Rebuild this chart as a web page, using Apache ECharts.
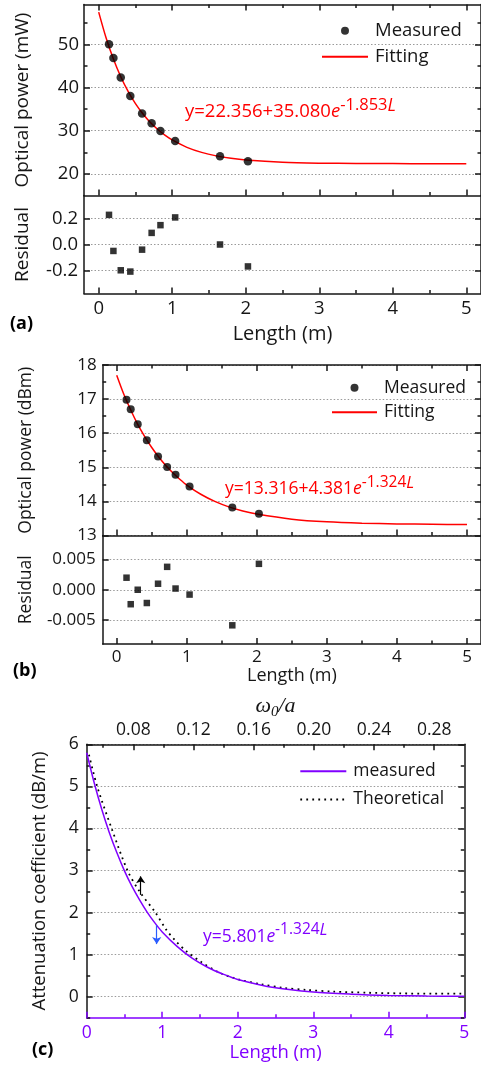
<!DOCTYPE html>
<html>
<head>
<meta charset="utf-8">
<script src="https://cdn.jsdelivr.net/npm/echarts@6/dist/echarts.min.js"></script>
<style>
html, body { margin: 0; padding: 0; background: #fff; overflow: hidden; }
#chart_container { width: 481px; height: 1068px; }
</style>
</head>
<body>
<div id="chart_container"></div>
<script>
// three stacked panels: (a) power in mW, (b) power in dBm, (c) attenuation

// measured points, same lengths in (a) and (b)
var lengthPts   = [0.14, 0.20, 0.30, 0.43, 0.59, 0.72, 0.84, 1.04, 1.65, 2.03];
var powerMw     = [50.0, 46.8, 42.3, 38.0, 34.0, 31.7, 29.9, 27.6, 24.1, 22.9];
var residualMw  = [0.23, -0.05, -0.20, -0.21, -0.04, 0.09, 0.15, 0.21, 0.00, -0.17];
var powerDbm    = [16.98, 16.70, 16.26, 15.79, 15.32, 15.01, 14.78, 14.44, 13.82, 13.64];
var residualDbm = [0.0020, -0.0024, 0.0000, -0.0022, 0.0010, 0.0038, 0.0002, -0.0008, -0.0059, 0.0043];

// points
var curveL  = [0, 0.1, 0.2, 0.3, 0.4, 0.5, 0.6, 0.7, 0.8, 0.9, 1.0, 1.2, 1.4, 1.6, 1.8, 2.0, 2.5, 3.0, 3.5, 4.0, 4.5, 5.0];
var fitMw   = [57.44, 51.50, 46.57, 42.48, 39.08, 36.25, 33.90, 31.94, 30.32, 28.98, 27.86, 26.15, 24.98, 24.17, 23.61, 23.22, 22.70, 22.49, 22.41, 22.38, 22.36, 22.36];
var fitDbm  = [17.70, 17.15, 16.68, 16.26, 15.90, 15.58, 15.30, 15.05, 14.84, 14.65, 14.48, 14.21, 14.00, 13.84, 13.72, 13.63, 13.48, 13.40, 13.36, 13.34, 13.33, 13.32];
var attnMeasured = [5.80, 5.08, 4.45, 3.90, 3.42, 2.99, 2.62, 2.30, 2.01, 1.76, 1.54, 1.19, 0.91, 0.70, 0.54, 0.41, 0.21, 0.11, 0.06, 0.03, 0.015, 0.01];

// dotted theoretical curve in (c)
var theoryL    = [0.03, 0.14, 0.33, 0.54, 0.70, 0.91, 1.05, 1.17, 1.32, 1.52, 1.77, 2.03, 2.30, 2.60, 2.91, 3.27, 3.71, 4.15, 4.59, 5.00];
var theoryAttn = [5.75, 4.99, 4.00, 3.00, 2.50, 2.00, 1.60, 1.34, 1.08, 0.82, 0.56, 0.40, 0.30, 0.21, 0.16, 0.12, 0.095, 0.078, 0.071, 0.070];

// tick values
var lenMajor   = [0, 1, 2, 3, 4, 5];
var lenMinor   = [0.5, 1.5, 2.5, 3.5, 4.5];
var mwMajor    = [20, 30, 40, 50];
var mwMinor    = [25, 35, 45, 55];
var resMwTicks = [-0.2, 0, 0.2];
var dbmMajor   = [13, 14, 15, 16, 17, 18];
var dbmMinor   = [13.5, 14.5, 15.5, 16.5, 17.5];
var resDbmTicks = [-0.005, 0, 0.005];
var attnMajor  = [0, 1, 2, 3, 4, 5, 6];
var attnMinor  = [-0.5, 0.5, 1.5, 2.5, 3.5, 4.5, 5.5];
var omegaMajor = [0.08, 0.12, 0.16, 0.20, 0.24, 0.28];
var omegaMinor = [0.06, 0.10, 0.14, 0.18, 0.22, 0.26];


var chartDom = document.getElementById('chart_container');
var myChart = echarts.init(chartDom);

var FONT = 'Open Sans';
var INK = '#161616';
var RED = '#ff0000';
var PURPLE = '#8000ff';
var BLUE = '#2a5cff';

function pairs(xs, ys) {
    return xs.map(function (x, i) { return [x, ys[i]]; });
}

// one value axis; minor axes only carry the short ticks
function ax(grid, pos, min, max, ticks, o) {
    o = o || {};
    var col = o.color || INK;
    var a = {
        type: 'value', gridIndex: grid, position: pos, min: min, max: max,
        axisLine: { show: !o.minor, onZero: false, lineStyle: { color: col, width: 1.5 } },
        axisTick: { show: true, inside: true, length: o.minor ? 3.5 : 6, customValues: ticks,
                    lineStyle: { color: col, width: 1.5 } },
        axisLabel: { show: false },
        splitLine: { show: !!o.split, lineStyle: { color: '#9a9a9a', type: [1.5, 2], width: 1 } }
    };
    if (o.labels) {
        a.axisLabel = { show: true, customValues: o.labels, formatter: o.fmt, margin: o.margin,
                        color: col, fontFamily: FONT, fontSize: o.fs };
    }
    if (o.name) {
        a.name = o.name;
        a.nameLocation = 'middle';
        a.nameGap = o.nameGap;
        a.nameTextStyle = o.nameStyle || { color: col, fontFamily: FONT, fontSize: o.nameFs };
    }
    return a;
}

function fmtInt(v) { return String(Math.round(v)); }

// superscript equation label
function equation(left, top, main, expo, color, fs) {
    return {
        type: 'text', left: left, top: top, z: 20,
        style: {
            text: '{m|' + main + '}{e|e}{s|' + expo + '}{l|L}',
            fill: color,
            rich: {
                m: { fontFamily: FONT, fontSize: fs, lineHeight: 30, fill: color },
                e: { fontFamily: FONT, fontSize: fs, fontStyle: 'italic', lineHeight: 30, fill: color },
                s: { fontFamily: FONT, fontSize: fs - 2, lineHeight: 15, verticalAlign: 'top', fill: color },
                l: { fontFamily: FONT, fontSize: fs - 1, fontStyle: 'italic', lineHeight: 15, verticalAlign: 'top', fill: color }
            }
        }
    };
}

function panelTag(left, top, txt) {
    return { type: 'text', left: left, top: top, z: 20,
             style: { text: txt, fill: '#000', fontFamily: FONT, fontSize: 18, fontWeight: 'bold' } };
}

// legend entry for a plain line: hide the marker ECharts puts on it
function lineEntry(name) {
    return { name: name, itemStyle: { color: 'rgba(0,0,0,0)', borderWidth: 0, opacity: 0 } };
}

var xAxes = [
    // (a) power grid
    ax(0, 'bottom', -0.2, 5.2, lenMajor),
    ax(0, 'bottom', -0.2, 5.2, lenMinor, { minor: true }),
    ax(0, 'top', -0.2, 5.2, lenMajor),
    ax(0, 'top', -0.2, 5.2, lenMinor, { minor: true }),
    // (a) residual grid
    ax(1, 'bottom', -0.2, 5.2, lenMajor, { labels: lenMajor, fmt: fmtInt, margin: 6, fs: 18.5,
        name: 'Length (m)', nameGap: 31, nameFs: 20 }),
    ax(1, 'bottom', -0.2, 5.2, lenMinor, { minor: true }),
    // (b) power grid
    ax(2, 'bottom', -0.2, 5.2, lenMajor),
    ax(2, 'bottom', -0.2, 5.2, lenMinor, { minor: true }),
    ax(2, 'top', -0.2, 5.2, lenMajor),
    ax(2, 'top', -0.2, 5.2, lenMinor, { minor: true }),
    // (b) residual grid
    ax(3, 'bottom', -0.2, 5.2, lenMajor, { labels: lenMajor, fmt: fmtInt, margin: 5, fs: 17,
        name: 'Length (m)', nameGap: 23, nameFs: 18 }),
    ax(3, 'bottom', -0.2, 5.2, lenMinor, { minor: true }),
    // (c)
    ax(4, 'bottom', 0, 5, lenMajor, { color: PURPLE, labels: lenMajor, fmt: fmtInt, margin: 6, fs: 17.5,
        name: 'Length (m)', nameGap: 26, nameFs: 18.5 }),
    ax(4, 'bottom', 0, 5, lenMinor, { color: PURPLE, minor: true }),
    ax(4, 'top', 0.049, 0.3, omegaMajor, { labels: omegaMajor, fmt: function (v) { return v.toFixed(2); },
        margin: 5, fs: 17.5, name: '{w|ω}{z|0}{w|/a}', nameGap: 25,
        nameStyle: { rich: {
            w: { fontFamily: 'Liberation Serif', fontStyle: 'italic', fontSize: 22, lineHeight: 26, fill: INK },
            z: { fontFamily: 'Liberation Serif', fontStyle: 'italic', fontSize: 15, lineHeight: 14, verticalAlign: 'bottom', fill: INK }
        } } }),
    ax(4, 'top', 0.049, 0.3, omegaMinor, { minor: true })
];

var yAxes = [
    // (a) power
    ax(0, 'left', 15, 59.2, mwMajor, { split: true, labels: mwMajor, fmt: fmtInt, margin: 5, fs: 18.5,
        name: 'Optical power (mW)', nameGap: 52, nameFs: 19 }),
    ax(0, 'left', 15, 59.2, mwMinor, { minor: true }),
    ax(0, 'right', 15, 59.2, mwMajor),
    ax(0, 'right', 15, 59.2, mwMinor, { minor: true }),
    // (a) residual
    ax(1, 'left', -0.38, 0.38, resMwTicks, { split: true, labels: resMwTicks,
        fmt: function (v) { return v.toFixed(1); }, margin: 6, fs: 18.5,
        name: 'Residual', nameGap: 52, nameFs: 19 }),
    ax(1, 'right', -0.38, 0.38, resMwTicks),
    // (b) power
    ax(2, 'left', 13, 18, dbmMajor, { split: true, labels: dbmMajor, fmt: fmtInt, margin: 6, fs: 17,
        name: 'Optical power (dBm)', nameGap: 68, nameFs: 17.5 }),
    ax(2, 'left', 13, 18, dbmMinor, { minor: true }),
    ax(2, 'right', 13, 18, dbmMajor),
    ax(2, 'right', 13, 18, dbmMinor, { minor: true }),
    // (b) residual
    ax(3, 'left', -0.009, 0.009, resDbmTicks, { split: true, labels: resDbmTicks,
        fmt: function (v) { return v.toFixed(3); }, margin: 7, fs: 17,
        name: 'Residual', nameGap: 68, nameFs: 17.5 }),
    ax(3, 'right', -0.009, 0.009, resDbmTicks),
    // (c)
    ax(4, 'left', -0.5, 6, attnMajor, { split: true, labels: attnMajor, fmt: fmtInt, margin: 8, fs: 17.5,
        name: 'Attenuation coefficient (dB/m)', nameGap: 37, nameFs: 18.5 }),
    ax(4, 'left', -0.5, 6, attnMinor, { minor: true }),
    ax(4, 'right', -0.5, 6, attnMajor),
    ax(4, 'right', -0.5, 6, attnMinor, { minor: true })
];

var legendText = function (fs, lh) {
    return { fontFamily: FONT, fontSize: fs, lineHeight: lh, color: INK, padding: [0, 0, 0, 2] };
};

var option = {
    animation: false,
    textStyle: { fontFamily: FONT },
    grid: [
        { left: 84,    top: 4.5,   width: 398,   height: 191 },
        { left: 84,    top: 195.5, width: 398,   height: 98 },
        { left: 102.7, top: 365,   width: 384.8, height: 170.5 },
        { left: 102.7, top: 535.5, width: 384.8, height: 108.5 },
        { left: 86.7,  top: 744.3, width: 377.6, height: 273.4 }
    ],
    xAxis: xAxes,
    yAxis: yAxes,
    legend: [
        { left: 321, top: 17.7, padding: 0, orient: 'vertical', itemWidth: 46, itemHeight: 8, itemGap: 0,
          selectedMode: false, data: ['Measured', lineEntry('Fitting')], textStyle: legendText(18.5, 26) },
        { left: 331, top: 375.4, padding: 0, orient: 'vertical', itemWidth: 45, itemHeight: 8, itemGap: 0,
          selectedMode: false, data: ['Measured', lineEntry('Fitting')], textStyle: legendText(17.5, 24.6) },
        { left: 299.3, top: 757, padding: 0, orient: 'vertical', itemWidth: 46, itemHeight: 8, itemGap: 0,
          selectedMode: false, data: [lineEntry('measured'), lineEntry('Theoretical')], textStyle: legendText(17.5, 28.3) }
    ],
    graphic: [
        equation(185, 97, 'y=22.356+35.080', '-1.853', RED, 18.5),
        equation(225, 474.5, 'y=13.316+4.381', '-1.324', RED, 17.5),
        equation(203, 922, 'y=5.801', '-1.324', PURPLE, 17.5),
        panelTag(10, 315, '(a)'),
        panelTag(13, 662, '(b)'),
        panelTag(32, 1041, '(c)')
    ],
    series: [
        {
            name: 'Fitting', type: 'line', xAxisIndex: 0, yAxisIndex: 0,
            data: pairs(curveL, fitMw), smooth: 0.3, symbol: 'none',
            lineStyle: { color: RED, width: 1.5 }, itemStyle: { color: RED }, z: 3
        },
        {
            name: 'Measured', type: 'scatter', xAxisIndex: 0, yAxisIndex: 0,
            data: pairs(lengthPts, powerMw), symbol: 'circle', symbolSize: 8.5,
            itemStyle: { color: '#000' }, z: 4
        },
        {
            name: 'resA', type: 'scatter', xAxisIndex: 4, yAxisIndex: 4,
            data: pairs(lengthPts, residualMw), symbol: 'rect', symbolSize: 6.5,
            itemStyle: { color: '#000' }
        },
        {
            name: 'Fitting', type: 'line', xAxisIndex: 6, yAxisIndex: 6,
            data: pairs(curveL, fitDbm), smooth: 0.3, symbol: 'none',
            lineStyle: { color: RED, width: 1.5 }, itemStyle: { color: RED }, z: 3
        },
        {
            name: 'Measured', type: 'scatter', xAxisIndex: 6, yAxisIndex: 6,
            data: pairs(lengthPts, powerDbm), symbol: 'circle', symbolSize: 8,
            itemStyle: { color: '#000' }, z: 4
        },
        {
            name: 'resB', type: 'scatter', xAxisIndex: 10, yAxisIndex: 10,
            data: pairs(lengthPts, residualDbm), symbol: 'rect', symbolSize: 6.5,
            itemStyle: { color: '#000' }
        },
        {
            name: 'Theoretical', type: 'line', xAxisIndex: 12, yAxisIndex: 12,
            data: pairs(theoryL, theoryAttn), smooth: 0.3, symbol: 'none',
            lineStyle: { color: '#000', width: 1.8, type: [1.8, 4.2] }, itemStyle: { color: '#000' }, z: 3,
            markLine: {
                silent: true, symbol: ['none', 'arrow'], symbolSize: 7,
                label: { show: false }, lineStyle: { color: '#000', type: 'solid', width: 1.2 },
                data: [[{ coord: [0.715, 2.42] }, { coord: [0.715, 2.86] }]]
            }
        },
        {
            name: 'measured', type: 'line', xAxisIndex: 12, yAxisIndex: 12,
            data: pairs(curveL, attnMeasured), smooth: 0.3, symbol: 'none',
            lineStyle: { color: PURPLE, width: 1.5 }, itemStyle: { color: PURPLE }, z: 4,
            markLine: {
                silent: true, symbol: ['none', 'arrow'], symbolSize: 7,
                label: { show: false }, lineStyle: { color: BLUE, type: 'solid', width: 1.2 },
                data: [[{ coord: [0.927, 1.70] }, { coord: [0.927, 1.25] }]]
            }
        }
    ]
};

myChart.setOption(option);
</script>
</body>
</html>
